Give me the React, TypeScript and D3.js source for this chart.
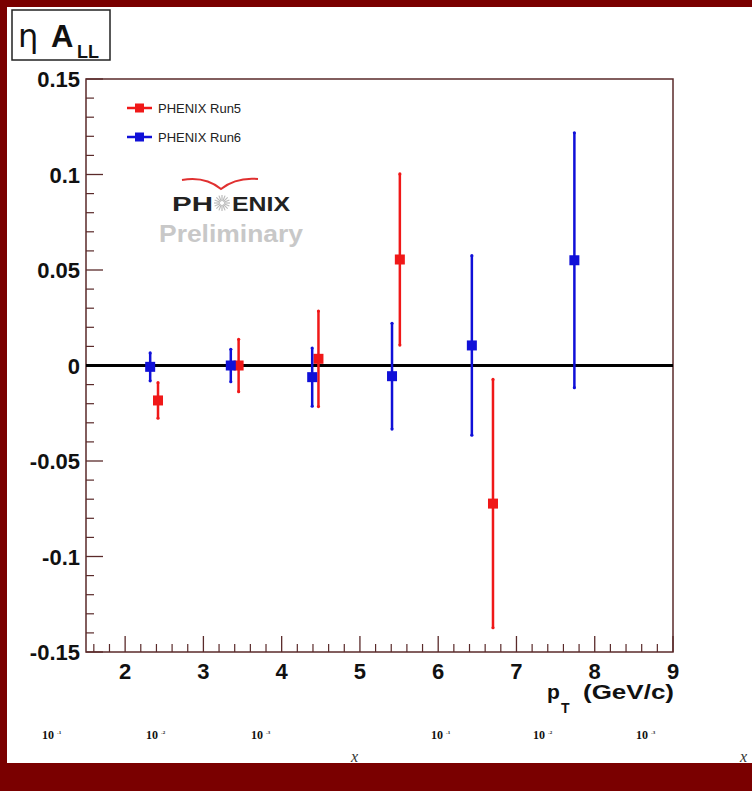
import React from "react";
import * as d3 from "d3";

const ptRun5 = [2.42, 3.45, 4.47, 5.51, 6.7];
const allRun5 = [-0.0183, 0.0, 0.0035, 0.0555, -0.0723];
const errRun5 = [0.0093, 0.0137, 0.025, 0.0448, 0.065];

const ptRun6 = [2.32, 3.35, 4.39, 5.41, 6.43, 7.74];
const allRun6 = [-0.0007, 0.0, -0.0061, -0.0056, 0.0105, 0.0551];
const errRun6 = [0.0073, 0.0085, 0.0152, 0.0277, 0.047, 0.0667];

const xTicks = [2, 3, 4, 5, 6, 7, 8, 9];
const yTicks = [-0.15, -0.1, -0.05, 0, 0.05, 0.1, 0.15];
const yTickLabels = ["-0.15", "-0.1", "-0.05", "0", "0.05", "0.1", "0.15"];
const legendLabels = ["PHENIX Run5", "PHENIX Run6"];
const bottomX = [42, 146, 251, 431, 533, 636];
const bottomExp = ["-1", "-2", "-3", "-1", "-2", "-3"];

const W = 752;
const H = 791;
const L = 86, R = 673, T = 79, B = 652;
const RED = "#f01818";
const BLUE = "#1010d8";
const FRAME = "#5a2a2a";
const SANS = "'Liberation Sans', Arial, Helvetica, sans-serif";

export default function App() {
  const x = d3.scaleLinear().domain([1.5, 9]).range([L, R]);
  const y = d3.scaleLinear().domain([-0.15, 0.15]).range([B, T]);
  const xMinor = d3.range(16, 90, 2).map((v) => v / 10).filter((v) => v > 1.5 && v <= 9 && Math.abs(v - Math.round(v)) > 1e-6);
  const yMinor = d3.range(-15, 16, 1).map((v) => v / 100).filter((v) => Math.abs(v * 20 - Math.round(v * 20)) > 1e-6);

  const series = [
    { pt: ptRun5, v: allRun5, e: errRun5, c: RED },
    { pt: ptRun6, v: allRun6, e: errRun6, c: BLUE },
  ];

  return (
    <svg width={W} height={H} style={{ position: "absolute", left: 0, top: 0 }} fontFamily={SANS}>
      <rect x={0} y={0} width={W} height={H} fill="#7a0000" />
      <rect x={7} y={7} width={W - 7} height={756} fill="#ffffff" />

      {/* title box */}
      <rect x={12} y={10} width={98} height={50} fill="white" stroke="#222" strokeWidth={1.5} />
      <text x={18} y={47} fontSize={32} fontFamily="'DejaVu Sans', sans-serif" fill="#111">η</text>
      <text x={51} y={47} fontSize={31} fontWeight="bold" fill="#111">A</text>
      <text x={77} y={58} fontSize={18} fontWeight="bold" fill="#111">LL</text>

      {/* frame */}
      <rect x={L} y={T} width={R - L} height={B - T} fill="none" stroke={FRAME} strokeWidth={1.5} />

      {/* x ticks */}
      {xTicks.map((t) => (
        <line key={"xt" + t} x1={x(t)} x2={x(t)} y1={B} y2={B - 16} stroke={FRAME} strokeWidth={1.3} />
      ))}
      {xMinor.map((t) => (
        <line key={"xm" + t} x1={x(t)} x2={x(t)} y1={B} y2={B - 8} stroke={FRAME} strokeWidth={1.2} />
      ))}
      {xTicks.map((t) => (
        <text key={"xl" + t} x={x(t)} y={679} textAnchor="middle" fontSize={22} fontWeight="bold" fill="#111">{t}</text>
      ))}

      {/* y ticks */}
      {yTicks.map((t) => (
        <line key={"yt" + t} x1={L} x2={L + 17} y1={y(t)} y2={y(t)} stroke={FRAME} strokeWidth={1.3} />
      ))}
      {yMinor.map((t) => (
        <line key={"ym" + t} x1={L} x2={L + 8} y1={y(t)} y2={y(t)} stroke={FRAME} strokeWidth={1.2} />
      ))}
      {yTicks.map((t, i) => (
        <text key={"yl" + t} x={80} y={y(t) + 8} textAnchor="end" fontSize={22} fontWeight="bold" fill="#111">{yTickLabels[i]}</text>
      ))}

      {/* x title */}
      <text x={547} y={699} fontSize={21} fontWeight="bold" fill="#111">p</text>
      <text x={561} y={713} fontSize={14} fontWeight="bold" fill="#111">T</text>
      <text x={583} y={699} fontSize={21} fontWeight="bold" fill="#111" textLength={91} lengthAdjust="spacingAndGlyphs">(GeV/c)</text>

      {/* zero line */}
      <line x1={L} x2={R} y1={y(0)} y2={y(0)} stroke="#000" strokeWidth={3} />

      {/* data */}
      {series.map((s, si) => (
        <g key={"s" + si}>
          {s.pt.map((p, i) => (
            <g key={i}>
              <line x1={x(p)} x2={x(p)} y1={y(s.v[i] + s.e[i])} y2={y(s.v[i] - s.e[i])} stroke={s.c} strokeWidth={2.5} />
              <circle cx={x(p)} cy={y(s.v[i] + s.e[i])} r={1.6} fill={s.c} />
              <circle cx={x(p)} cy={y(s.v[i] - s.e[i])} r={1.6} fill={s.c} />
              <rect x={x(p) - 5} y={y(s.v[i]) - 5} width={10} height={10} fill={s.c} />
            </g>
          ))}
        </g>
      ))}

      {/* legend */}
      {legendLabels.map((lab, i) => (
        <g key={lab} transform={`translate(0, ${108 + i * 29})`}>
          <line x1={127} x2={152} y1={0} y2={0} stroke={i === 0 ? RED : BLUE} strokeWidth={2.5} />
          <rect x={135} y={-4.5} width={9} height={9} fill={i === 0 ? RED : BLUE} />
          <text x={158} y={5} fontSize={13} fill="#222">{lab}</text>
        </g>
      ))}

      {/* PHENIX logo */}
      <path d="M182,180 Q205,176 221,189 Q236,177 258,179" fill="none" stroke="#e03030" strokeWidth={2} />
      <text x={172} y={211} fontSize={21} fontWeight="bold" fill="#222" textLength={41} lengthAdjust="spacingAndGlyphs">PH</text>
      <g transform="translate(222,203)" stroke="#bbb" strokeWidth={1.2}>
        {d3.range(16).map((k) => {
          const a = (k * Math.PI) / 8;
          return <line key={k} x1={Math.cos(a) * 2} y1={Math.sin(a) * 2} x2={Math.cos(a) * 8} y2={Math.sin(a) * 8} />;
        })}
      </g>
      <text x={232} y={211} fontSize={21} fontWeight="bold" fill="#222" textLength={58} lengthAdjust="spacingAndGlyphs">ENIX</text>
      <text x={159} y={242} fontSize={23} fontWeight="bold" fill="#c8c8c8" textLength={144} lengthAdjust="spacingAndGlyphs">Preliminary</text>

      {/* bottom artifacts */}
      {bottomX.map((bx, i) => (
        <text key={"b" + bx} x={bx} y={739} fontSize={12} fontWeight="bold" fontFamily="'Liberation Serif', serif" fill="#111">
          10<tspan fontSize={5} dy={-5} dx={3}>{bottomExp[i]}</tspan>
        </text>
      ))}
      <text x={351} y={762} fontSize={16} fontStyle="italic" fontFamily="'Liberation Serif', serif" fill="#333">x</text>
      <text x={740} y={762} fontSize={16} fontStyle="italic" fontFamily="'Liberation Serif', serif" fill="#333">x</text>
    </svg>
  );
}
